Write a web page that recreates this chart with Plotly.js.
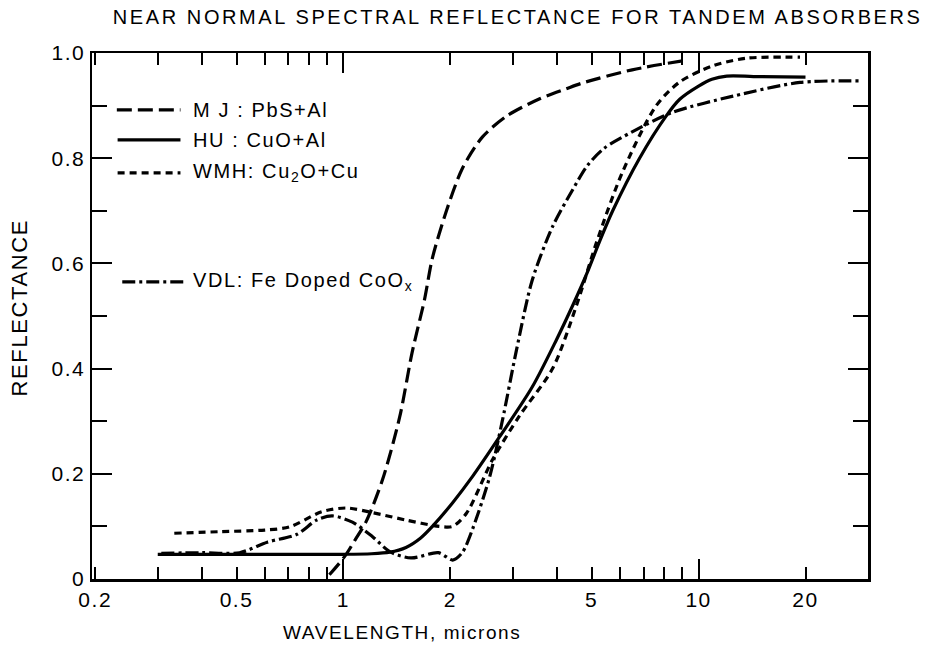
<!DOCTYPE html>
<html>
<head>
<meta charset="utf-8">
<script src="https://cdn.plot.ly/plotly-3.0.1.min.js"></script>
<style>
  html, body { margin: 0; padding: 0; background: #fff; }
  #chart { width: 926px; height: 647px; }
  .gtitle { letter-spacing: 2.6px; }
  .annotation-text { letter-spacing: 1.6px; }
  .xtick text, .ytick text { letter-spacing: 1.5px; }
</style>
</head>
<body>
<div id="chart"></div>
<script>
// ---- data (wavelength in microns, reflectance) ----
const mjX  = [0.913, 1.006, 1.08, 1.16, 1.29, 1.44, 1.56, 1.69, 1.78, 1.95, 2.16, 2.46, 2.88, 3.57, 4.24, 4.71, 6.5, 9.0];
const mjY  = [0.008, 0.042, 0.075, 0.11, 0.19, 0.308, 0.43, 0.53, 0.61, 0.70, 0.78, 0.84, 0.88, 0.913, 0.932, 0.943, 0.968, 0.985];

const huX  = [0.30, 0.5, 0.8, 1.0, 1.2, 1.35, 1.5, 1.65, 1.78, 2.03, 2.31, 2.75, 3.4, 3.98, 4.42, 4.84, 5.25, 5.73, 6.82, 8.1, 8.85, 10.0, 10.9, 12.0, 15, 20];
const huY  = [0.047, 0.047, 0.047, 0.047, 0.048, 0.051, 0.06, 0.078, 0.10, 0.145, 0.195, 0.27, 0.365, 0.455, 0.52, 0.58, 0.64, 0.70, 0.80, 0.88, 0.912, 0.937, 0.95, 0.956, 0.955, 0.954];

const wmhX = [0.334, 0.45, 0.6, 0.705, 0.87, 1.02, 1.21, 1.50, 1.86, 2.03, 2.22, 2.63, 3.13, 3.88, 4.53, 5.16, 6.1, 7.6, 8.85, 10.9, 13.6, 19.3];
const wmhY = [0.087, 0.09, 0.093, 0.099, 0.128, 0.135, 0.126, 0.112, 0.10, 0.10, 0.125, 0.227, 0.31, 0.40, 0.52, 0.64, 0.773, 0.90, 0.945, 0.975, 0.99, 0.992];

const vdlX = [0.307, 0.4, 0.51, 0.61, 0.74, 0.84, 0.93, 1.06, 1.21, 1.35, 1.55, 1.85, 2.03, 2.16, 2.31, 2.58, 2.80, 3.07, 3.4, 3.88, 4.42, 4.85, 5.4, 6.5, 8.44, 12.5, 19.3, 29];
const vdlY = [0.049, 0.05, 0.05, 0.07, 0.085, 0.112, 0.12, 0.108, 0.08, 0.052, 0.04, 0.05, 0.036, 0.05, 0.095, 0.194, 0.30, 0.435, 0.568, 0.67, 0.74, 0.785, 0.818, 0.85, 0.887, 0.918, 0.944, 0.947];

const seriesNames = ["M J : PbS+Al", "HU : CuO+Al", "WMH: Cu<sub>2</sub>O+Cu", "VDL: Fe Doped CoO<sub>x</sub>"];

const xTickVals = [0.2, 0.5, 1, 2, 5, 10, 20];
const xTickText = ["0.2", "0.5", "1", "2", "5", "10", "20"];
const xMinorVals = [0.3, 0.4, 0.6, 0.7, 0.8, 0.9, 3, 4, 6, 7, 8, 9];
const xLongTicks = [1, 10];
const yTickVals = [0, 0.2, 0.4, 0.6, 0.8, 1.0];
const yTickText = ["0", "0.2", "0.4", "0.6", "0.8", "1.0"];

// ---- styles ----
const FONT = "Liberation Sans, Arial, sans-serif";
const dashMJ = "15px,6px";
const dashWMH = "7px,5px";
const dashVDL = "13px,4px,3px,4px";
const lw = 3.2;

function tr(x, y, dash, xax) {
  return { x: x, y: y, type: "scatter", mode: "lines", xaxis: xax || "x",
    line: { color: "#000", width: lw, dash: dash, shape: "spline", smoothing: 0.8 },
    hoverinfo: "skip", showlegend: false };
}

const data = [
  tr(mjX, mjY, dashMJ),
  tr(huX, huY, "solid"),
  tr(wmhX, wmhY, dashWMH),
  tr(vdlX, vdlY, dashVDL, "x2")
];

const xRange = [-0.708, 1.477];

// legend built from shapes + annotations (paper coords)
const legY = [0.892, 0.835, 0.772, 0.565];
const legDash = [dashMJ, "solid", dashWMH, dashVDL];
const legX0 = [0.032, 0.033, 0.033, 0.039];
const legX1 = [0.114, 0.114, 0.114, 0.121];
const shapes = legY.map((yy, i) => ({
  type: "line", xref: "paper", yref: "paper",
  x0: legX0[i], x1: legX1[i], y0: yy, y1: yy,
  line: { color: "#000", width: lw, dash: legDash[i] }
}));
const annotations = legY.map((yy, i) => ({
  xref: "paper", yref: "paper", x: 0.128, y: yy, xanchor: "left", yanchor: "middle",
  text: seriesNames[i], showarrow: false, font: { family: FONT, size: 20, color: "#000" }
}));
annotations.push({
  xref: "paper", yref: "paper", x: 0.3995, y: -0.101, xanchor: "center", yanchor: "middle",
  text: "WAVELENGTH, microns", showarrow: false, font: { family: FONT, size: 19, color: "#000" }
});
annotations.push({
  xref: "paper", yref: "paper", x: -0.093, y: 0.516, xanchor: "center", yanchor: "middle",
  text: "REFLECTANCE", textangle: -90, showarrow: false,
  font: { family: FONT, size: 22, color: "#000" }
});

const layout = {
  width: 926, height: 647,
  margin: { l: 92, r: 58, t: 53, b: 68, pad: 0 },
  paper_bgcolor: "#fff", plot_bgcolor: "#fff",
  font: { family: FONT, color: "#000" },
  title: { text: "NEAR NORMAL SPECTRAL REFLECTANCE FOR TANDEM ABSORBERS",
    xref: "container", yref: "container", x: 0.559, y: 0.974, xanchor: "center", yanchor: "middle",
    font: { family: FONT, size: 20, color: "#000" } },
  xaxis: {
    type: "log", range: xRange, tickmode: "array", tickvals: xTickVals, ticktext: xTickText,
    ticks: "inside", ticklen: 12, tickwidth: 2, tickcolor: "#000",
    showline: true, linewidth: 2.5, linecolor: "#000", mirror: "ticks",
    showgrid: false, zeroline: false, tickfont: { family: FONT, size: 21, color: "#000" },
    minor: { tickmode: "array", tickvals: xMinorVals, ticks: "inside", ticklen: 12, tickwidth: 2, tickcolor: "#000", showgrid: false }
  },
  xaxis2: {
    type: "log", range: xRange, overlaying: "x", anchor: "y", side: "bottom",
    tickmode: "array", tickvals: xLongTicks, ticks: "inside", ticklen: 20, tickwidth: 2, tickcolor: "#000",
    showticklabels: false, showline: false, mirror: "ticks", showgrid: false, zeroline: false
  },
  yaxis: {
    range: [0, 1.0], tickmode: "array", tickvals: yTickVals, ticktext: yTickText,
    ticks: "inside", ticklen: 20, tickwidth: 2, tickcolor: "#000",
    showline: true, linewidth: 2.5, linecolor: "#000", mirror: "ticks",
    showgrid: false, zeroline: false, tickfont: { family: FONT, size: 21, color: "#000" },
    minor: { tick0: 0, dtick: 0.1, ticks: "inside", ticklen: 15, tickwidth: 2, tickcolor: "#000", showgrid: false }
  },
  shapes: shapes,
  annotations: annotations,
  showlegend: false
};

Plotly.newPlot("chart", data, layout, { staticPlot: true, displayModeBar: false });
</script>
</body>
</html>
